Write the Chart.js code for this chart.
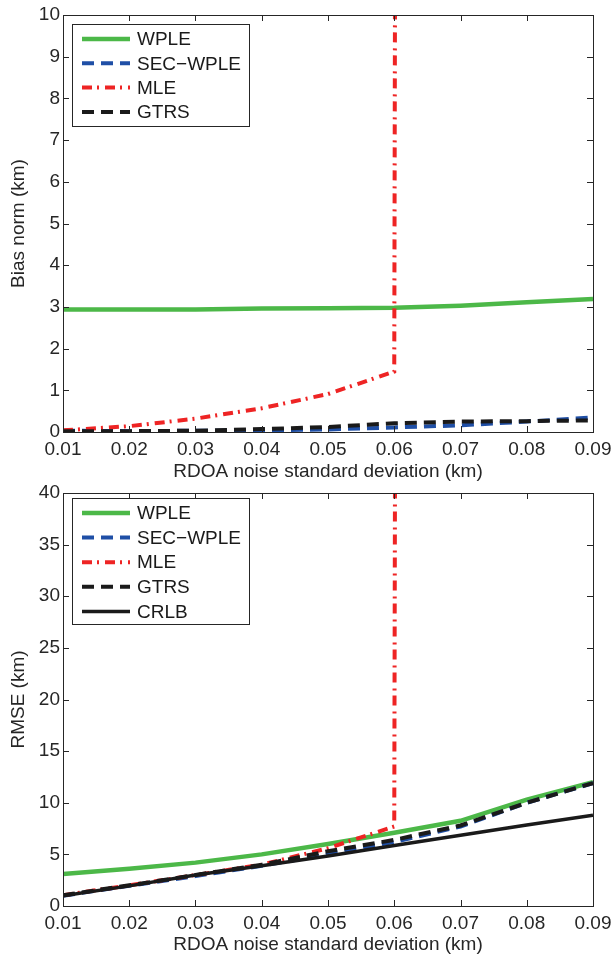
<!DOCTYPE html>
<html>
<head>
<meta charset="utf-8">
<script src="https://cdn.jsdelivr.net/npm/chart.js@4.4.1/dist/chart.umd.min.js"></script>
<style>
  body { margin: 0; background: #fff; }
  #wrap { position: relative; width: 613px; height: 956px; }
  canvas { position: absolute; left: 0; }
</style>
</head>
<body>
<div id="wrap">
  <canvas id="bias-chart" width="613" height="483" style="top:0"></canvas>
  <canvas id="rmse-chart" width="613" height="478" style="top:478px"></canvas>
</div>
<script>
// RDOA noise standard deviation (km)
const noise = [0.01, 0.02, 0.03, 0.04, 0.05, 0.06, 0.07, 0.08, 0.09];
const biasTicks = [0, 1, 2, 3, 4, 5, 6, 7, 8, 9, 10];
const rmseTicks = [0, 5, 10, 15, 20, 25, 30, 35, 40];

// Bias norm (km)
const biasWPLE = [2.94, 2.94, 2.94, 2.96, 2.97, 2.98, 3.03, 3.11, 3.19];
const biasSEC = [0.03, 0.02, 0.03, 0.04, 0.06, 0.11, 0.16, 0.25, 0.35];
const biasMLE = [0.04, 0.14, 0.32, 0.57, 0.91, 1.45, 3000, 3000, 3000];
const biasGTRS = [0.02, 0.02, 0.03, 0.07, 0.12, 0.21, 0.25, 0.26, 0.28];

// RMSE (km)
const rmseWPLE = [3.1, 3.6, 4.2, 5.0, 6.0, 7.1, 8.25, 10.3, 12.0];
const rmseSEC = [1.0, 1.95, 2.9, 3.9, 5.0, 6.2, 7.7, 10.0, 11.9];
const rmseMLE = [1.05, 2.0, 3.0, 4.0, 5.6, 7.7, 3000, 3000, 3000];
const rmseGTRS = [1.05, 2.0, 3.0, 4.0, 5.3, 6.4, 7.8, 10.0, 11.9];
const rmseCRLB = [1.0, 1.95, 3.0, 3.9, 4.85, 5.85, 6.85, 7.85, 8.8];

const FONT = { family: '"Liberation Sans", Arial, Helvetica, sans-serif', size: 19 };
const AXIS_COLOR = '#262626';

const STYLES = {
    'WPLE':     { borderColor: '#4cb848', borderWidth: 4.5, borderDash: [] },
    'SEC−WPLE': { borderColor: '#1f4fa6', borderWidth: 4, borderDash: [12, 7] },
    'MLE':      { borderColor: '#ee2424', borderWidth: 4, borderDash: [10, 5, 2, 6] },
    'GTRS':     { borderColor: '#1a1a1a', borderWidth: 4, borderDash: [12, 7] },
    'CRLB':     { borderColor: '#1a1a1a', borderWidth: 3.5, borderDash: [] }
};

function makeDataset(label, values, order) {
    return Object.assign({
        label: label,
        data: values.map((v, i) => ({ x: noise[i], y: v })),
        pointRadius: 0,
        tension: 0,
        fill: false,
        clip: 0,
        borderCapStyle: 'butt',
        order: order
    }, STYLES[label]);
}

// matlab style box, inward ticks and legend
const matlabAxes = {
    id: 'matlabAxes',
    afterDatasetsDraw(chart, args, opts) {
        const { ctx, chartArea: a } = chart;
        const xs = chart.scales.x;
        const ys = chart.scales.y;
        ctx.save();
        ctx.strokeStyle = AXIS_COLOR;
        ctx.lineWidth = 1;
        ctx.beginPath();
        xs.ticks.forEach(t => {
            const px = Math.round(xs.getPixelForValue(t.value)) + 0.5;
            ctx.moveTo(px, a.bottom); ctx.lineTo(px, a.bottom - 6);
            ctx.moveTo(px, a.top); ctx.lineTo(px, a.top + 6);
        });
        ys.ticks.forEach(t => {
            const py = Math.round(ys.getPixelForValue(t.value)) + 0.5;
            ctx.moveTo(a.left, py); ctx.lineTo(a.left + 6, py);
            ctx.moveTo(a.right, py); ctx.lineTo(a.right - 6, py);
        });
        ctx.stroke();
        ctx.strokeRect(Math.round(a.left) + 0.5, Math.round(a.top) + 0.5,
            Math.round(a.right - a.left), Math.round(a.bottom - a.top));

        // legend
        const lg = opts.legend;
        const bx = a.left + lg.dx, by = a.top + lg.dy;
        ctx.fillStyle = '#fff';
        ctx.fillRect(bx, by, lg.w, lg.h);
        ctx.strokeStyle = AXIS_COLOR;
        ctx.lineWidth = 1;
        ctx.strokeRect(Math.round(bx) + 0.5, Math.round(by) + 0.5, lg.w, lg.h);
        ctx.font = FONT.size + 'px ' + FONT.family;
        ctx.textBaseline = 'middle';
        chart.data.datasets.forEach((ds, i) => {
            const ry = by + lg.first + i * lg.gap;
            ctx.save();
            ctx.strokeStyle = ds.borderColor;
            ctx.lineWidth = ds.borderWidth;
            ctx.setLineDash(ds.borderDash);
            ctx.lineCap = 'butt';
            ctx.beginPath();
            ctx.moveTo(bx + 10, ry);
            ctx.lineTo(bx + 58, ry);
            ctx.stroke();
            ctx.restore();
            ctx.fillStyle = '#1a1a1a';
            ctx.fillText(ds.label, bx + 65, ry + 1);
        });
        ctx.restore();
    }
};

function makeChart(id, datasets, yTicks, yTitle, xAxisHeight, legend) {
    const ctx = document.getElementById(id).getContext('2d');
    return new Chart(ctx, {
        type: 'line',
        data: { datasets: datasets },
        options: {
            responsive: false,
            animation: false,
            layout: { padding: { left: 0, right: 20, top: 15, bottom: 0 } },
            plugins: {
                legend: { display: false },
                tooltip: { enabled: false },
                matlabAxes: { legend: legend }
            },
            scales: {
                x: {
                    type: 'linear',
                    min: noise[0],
                    max: noise[noise.length - 1],
                    afterBuildTicks: s => { s.ticks = noise.map(v => ({ value: v })); },
                    afterFit: s => { s.height = xAxisHeight; s.paddingLeft = 0; s.paddingRight = 0; },
                    grid: { display: false, drawTicks: false },
                    border: { display: false },
                    ticks: {
                        color: AXIS_COLOR,
                        font: FONT,
                        padding: 6,
                        maxRotation: 0,
                        autoSkip: false,
                        callback: v => v.toFixed(2)
                    },
                    title: {
                        display: true,
                        text: 'RDOA noise standard deviation (km)',
                        color: AXIS_COLOR,
                        font: FONT,
                        padding: 0
                    }
                },
                y: {
                    type: 'linear',
                    min: yTicks[0],
                    max: yTicks[yTicks.length - 1],
                    afterBuildTicks: s => { s.ticks = yTicks.map(v => ({ value: v })); },
                    afterFit: s => { s.width = 63; s.paddingTop = 0; s.paddingBottom = 0; },
                    grid: { display: false, drawTicks: false },
                    border: { display: false },
                    ticks: { color: AXIS_COLOR, font: FONT, padding: 3, autoSkip: false },
                    title: {
                        display: true,
                        text: yTitle,
                        color: AXIS_COLOR,
                        font: FONT,
                        padding: { top: 7, bottom: 0 }
                    }
                }
            }
        },
        plugins: [matlabAxes]
    });
}

makeChart('bias-chart', [
    makeDataset('WPLE', biasWPLE, 4),
    makeDataset('SEC−WPLE', biasSEC, 3),
    makeDataset('MLE', biasMLE, 2),
    makeDataset('GTRS', biasGTRS, 1)
], biasTicks, 'Bias norm (km)', 51, { dx: 9, dy: 9, w: 177, h: 102, first: 15, gap: 24.3 });

makeChart('rmse-chart', [
    makeDataset('WPLE', rmseWPLE, 5),
    makeDataset('SEC−WPLE', rmseSEC, 4),
    makeDataset('MLE', rmseMLE, 3),
    makeDataset('GTRS', rmseGTRS, 2),
    makeDataset('CRLB', rmseCRLB, 1)
], rmseTicks, 'RMSE (km)', 50, { dx: 9, dy: 5, w: 177, h: 126, first: 15, gap: 24.6 });
</script>
</body>
</html>
